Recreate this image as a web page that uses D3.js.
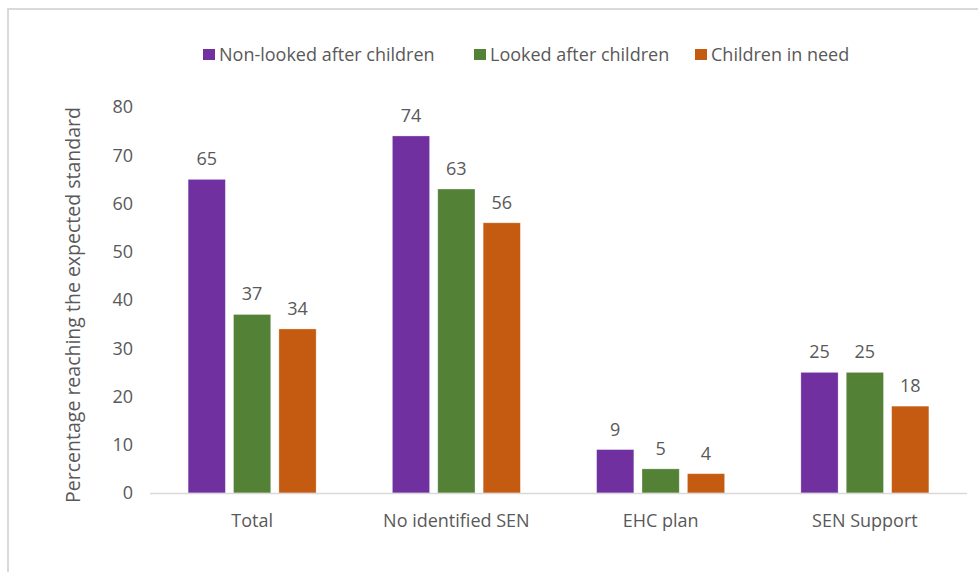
<!DOCTYPE html>
<html><head><meta charset="utf-8">
<script src="https://cdn.jsdelivr.net/npm/d3@7"></script>
<style>
html,body{margin:0;padding:0;background:#fff;}
text{font-family:"Open Sans","Noto Sans",sans-serif;fill:#595959;}
</style></head>
<body><svg id="c" width="978" height="572"></svg>
<script>
const categories = ["Total", "No identified SEN", "EHC plan", "SEN Support"];
const seriesNames = ["Non-looked after children", "Looked after children", "Children in need"];
const nonLookedAfter = [65, 74, 9, 25];
const lookedAfter = [37, 63, 5, 25];
const childrenInNeed = [34, 56, 4, 18];
const yTicks = [0, 10, 20, 30, 40, 50, 60, 70, 80];
const colors = ["#7030A0", "#538135", "#C55A11"];
const yTitle = "Percentage reaching the expected standard";

const seriesValues = [nonLookedAfter, lookedAfter, childrenInNeed];
const svg = d3.select("#c");

// chart frame (top and left edges)
svg.append("line").attr("x1",8).attr("x2",978).attr("y1",9).attr("y2",9).attr("stroke","#D9D9D9").attr("stroke-width",2);
svg.append("line").attr("x1",8).attr("x2",8).attr("y1",8).attr("y2",572).attr("stroke","#D9D9D9").attr("stroke-width",2);

const plot = {left:150, right:967, top:107, bottom:493};
const x0 = d3.scaleBand().domain(categories).range([plot.left, plot.right]).padding(0);
const groupW = 128;
const x1 = d3.scaleBand().domain(d3.range(3)).range([-groupW/2, groupW/2]).paddingInner(0.18);
const y = d3.scaleLinear().domain([0, 80]).range([plot.bottom, plot.top]);

// y tick labels
svg.append("g").selectAll("text").data(yTicks).join("text")
  .attr("x", 133).attr("y", d => y(d)).attr("dy","0.35em")
  .attr("text-anchor","end").attr("font-size", 18).text(d => d);

// y title
svg.append("text").attr("transform", `translate(79.5,${(plot.top+plot.bottom)/2+5}) rotate(-90)`)
  .attr("text-anchor","middle").attr("font-size", 19.5).text(yTitle);

// bars
categories.forEach((cat, ci) => {
  const g = svg.append("g").attr("transform", `translate(${x0(cat)+x0.bandwidth()/2},0)`);
  seriesValues.forEach((vals, si) => {
    const v = vals[ci];
    g.append("rect").attr("x", x1(si)).attr("width", x1.bandwidth())
      .attr("y", y(v)).attr("height", y(0)-y(v))
      .attr("fill", colors[si]).attr("stroke","#fff").attr("stroke-opacity",0.4).attr("stroke-width",0.75);
    g.append("text").attr("x", x1(si)+x1.bandwidth()/2).attr("y", y(v)-14)
      .attr("text-anchor","middle").attr("font-size",18).text(v);
  });
});

// x axis line
svg.append("line").attr("x1", plot.left).attr("x2", plot.right).attr("y1", plot.bottom+0.5).attr("y2", plot.bottom+0.5)
  .attr("stroke","#D9D9D9").attr("stroke-width",1.5);

// category labels
svg.append("g").selectAll("text").data(categories).join("text")
  .attr("x", d => x0(d)+x0.bandwidth()/2).attr("y", 520.5).attr("dy","0.35em")
  .attr("text-anchor","middle").attr("font-size",18).text(d => d);

// legend
const legendX = [203, 474, 695];
const lg = svg.append("g");
seriesNames.forEach((name, i) => {
  lg.append("rect").attr("x", legendX[i]).attr("y", 49).attr("width", 12).attr("height", 11).attr("fill", colors[i]);
  lg.append("text").attr("x", legendX[i]+16).attr("y", 54.5).attr("dy","0.35em").attr("font-size",18).text(name);
});
</script></body></html>
